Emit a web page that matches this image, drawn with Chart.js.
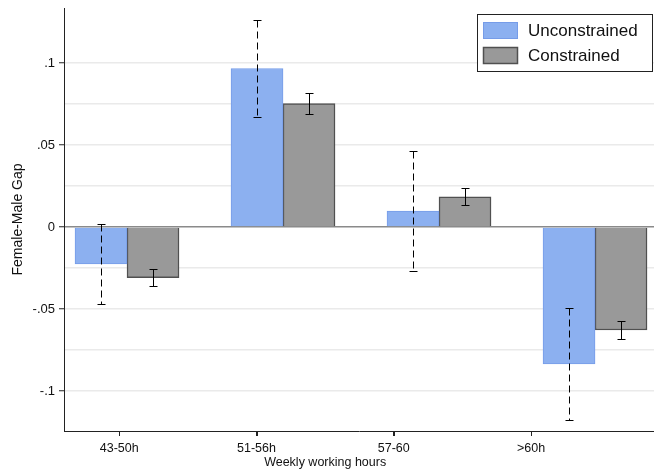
<!DOCTYPE html>
<html>
<head>
<meta charset="utf-8">
<script src="https://cdn.jsdelivr.net/npm/chart.js@4"></script>
<style>
  html, body { margin: 0; padding: 0; background: #fff; overflow: hidden; }
  #wrap { width: 654px; height: 470px; }
</style>
</head>
<body>
<div id="wrap"><canvas id="chart" width="654" height="470"></canvas></div>
<script>
// values
var categories = ['43-50h', '51-56h', '57-60', '>60h'];
var groupPos = [0, 1, 2, 3];
var tickPos = [-0.05, 0.83, 1.71, 2.59];   // Stata put the labels off-centre
var unconstrained = [-0.0226, 0.0966, 0.0097, -0.0835];
var constrained = [-0.0309, 0.0752, 0.0184, -0.0628];
var unconLo = [-0.0471, 0.0673, -0.0268, -0.1177];
var unconHi = [0.0018, 0.1262, 0.0463, -0.0496];
var conLo = [-0.0362, 0.0689, 0.0134, -0.0683];
var conHi = [-0.0256, 0.0819, 0.0236, -0.0573];
var yTickValues = [-0.1, -0.075, -0.05, -0.025, 0, 0.025, 0.05, 0.075, 0.1];
var yTickLabels = ['-.1', '', '-.05', '', '0', '', '.05', '', '.1'];

var FONT = '"Liberation Sans", Arial, Helvetica, sans-serif';
var blueFill = 'rgb(140, 176, 240)';
var blueLine = 'rgb(118, 156, 232)';
var grayFill = 'rgb(153, 153, 153)';
var grayLine = 'rgb(80, 80, 80)';

function toPoints(vals) {
  var out = [];
  for (var i = 0; i < vals.length; i++) {
    out.push({x: groupPos[i], y: vals[i]});
  }
  return out;
}

// error bars: dashed for unconstrained, solid for constrained
var errorBars = {
  id: 'errorBars',
  afterDatasetsDraw: function(chart) {
    var ctx = chart.ctx;
    var y = chart.scales.y;
    var sets = [[unconLo, unconHi, [7, 4]], [conLo, conHi, []]];
    ctx.save();
    ctx.strokeStyle = '#000';
    ctx.lineWidth = 1;
    for (var d = 0; d < sets.length; d++) {
      var meta = chart.getDatasetMeta(d);
      for (var i = 0; i < meta.data.length; i++) {
        var x = Math.round(meta.data[i].x) + 0.5;
        var yLo = Math.round(y.getPixelForValue(sets[d][0][i])) + 0.5;
        var yHi = Math.round(y.getPixelForValue(sets[d][1][i])) + 0.5;
        ctx.setLineDash(sets[d][2]);
        ctx.beginPath();
        ctx.moveTo(x, yHi);
        ctx.lineTo(x, yLo);
        ctx.stroke();
        ctx.setLineDash([]);
        ctx.beginPath();
        ctx.moveTo(x - 4, yHi); ctx.lineTo(x + 4, yHi);
        ctx.moveTo(x - 4, yLo); ctx.lineTo(x + 4, yLo);
        ctx.stroke();
      }
    }
    ctx.restore();
  }
};

// boxed legend, x tick marks, and x title centred between the outer ticks
var extras = {
  id: 'extras',
  afterDraw: function(chart) {
    var ctx = chart.ctx;
    var xs = chart.scales.x;
    ctx.save();

    ctx.strokeStyle = '#222';
    ctx.lineWidth = 1;
    ctx.beginPath();
    for (var t = 0; t < xs.ticks.length; t++) {
      var tx = Math.round(xs.getPixelForTick(t)) + 0.5;
      ctx.moveTo(tx, xs.top);
      ctx.lineTo(tx, xs.top + 5);
    }
    ctx.stroke();

    ctx.fillStyle = '#fff';
    ctx.fillRect(477.5, 14.5, 175, 57);
    ctx.strokeStyle = '#222';
    ctx.strokeRect(477.5, 14.5, 175, 57);
    var ds = chart.data.datasets;
    var rows = [22.5, 47.5];
    ctx.font = '17px ' + FONT;
    ctx.textBaseline = 'middle';
    for (var i = 0; i < ds.length; i++) {
      ctx.fillStyle = ds[i].backgroundColor;
      ctx.fillRect(483.5, rows[i], 34, 16);
      ctx.strokeStyle = ds[i].borderColor;
      ctx.lineWidth = ds[i].borderWidth;
      ctx.strokeRect(483.5, rows[i], 34, 16);
      ctx.fillStyle = '#111';
      ctx.fillText(ds[i].label, 528, rows[i] + 8.5);
    }

    var x0 = xs.getPixelForValue(tickPos[0]);
    var x1 = xs.getPixelForValue(tickPos[tickPos.length - 1]);
    ctx.font = '12.5px ' + FONT;
    ctx.textAlign = 'center';
    ctx.fillText('Weekly working hours', (x0 + x1) / 2, 463);
    ctx.restore();
  }
};

var chart = new Chart(document.getElementById('chart'), {
  type: 'bar',
  data: {
    datasets: [
      {
        label: 'Unconstrained',
        data: toPoints(unconstrained),
        backgroundColor: blueFill,
        borderColor: blueLine,
        borderWidth: 1
      },
      {
        label: 'Constrained',
        data: toPoints(constrained),
        backgroundColor: grayFill,
        borderColor: grayLine,
        borderWidth: 1.5
      }
    ]
  },
  options: {
    responsive: false,
    animation: false,
    devicePixelRatio: 1,
    barThickness: 52,
    layout: { padding: { top: 8, left: 0, right: 0, bottom: 0 } },
    plugins: {
      legend: { display: false },
      tooltip: { enabled: false }
    },
    scales: {
      x: {
        type: 'linear',
        min: -0.404,
        max: 3.378,
        offset: false,
        afterBuildTicks: function(scale) {
          scale.ticks = tickPos.map(function(v) { return {value: v}; });
        },
        afterFit: function(scale) {
          scale.height = 39;
          scale.paddingLeft = 0;
          scale.paddingRight = 0;
        },
        grid: {
          offset: false,
          drawOnChartArea: false,
          tickLength: 5,
          tickColor: '#222'
        },
        border: { color: '#222', width: 1 },
        ticks: {
          autoSkip: false,
          maxRotation: 0,
          padding: 5,
          color: '#111',
          font: { family: FONT, size: 12.5 },
          callback: function(v, i) { return categories[i]; }
        }
      },
      y: {
        min: -0.1244,
        max: 0.1335,
        afterBuildTicks: function(scale) {
          scale.ticks = yTickValues.map(function(v) { return {value: v}; });
        },
        afterFit: function(scale) {
          scale.width = 64;
          scale.paddingTop = 0;
          scale.paddingBottom = 0;
        },
        grid: {
          tickLength: 5,
          lineWidth: 1.5,
          tickWidth: 1,
          color: function(c) { return c.tick && c.tick.value === 0 ? '#8a8a8a' : '#eaeaea'; },
          tickColor: function(c) { return yTickLabels[c.index] ? '#222' : 'rgba(0,0,0,0)'; }
        },
        border: { color: '#222', width: 1 },
        ticks: {
          padding: 4,
          color: '#111',
          font: { family: FONT, size: 13 },
          callback: function(v, i) { return yTickLabels[i]; }
        },
        title: {
          display: true,
          text: 'Female-Male Gap',
          color: '#111',
          padding: { top: 10, bottom: 4 },
          font: { family: FONT, size: 14 }
        }
      }
    }
  },
  plugins: [errorBars, extras]
});
</script>
</body>
</html>
